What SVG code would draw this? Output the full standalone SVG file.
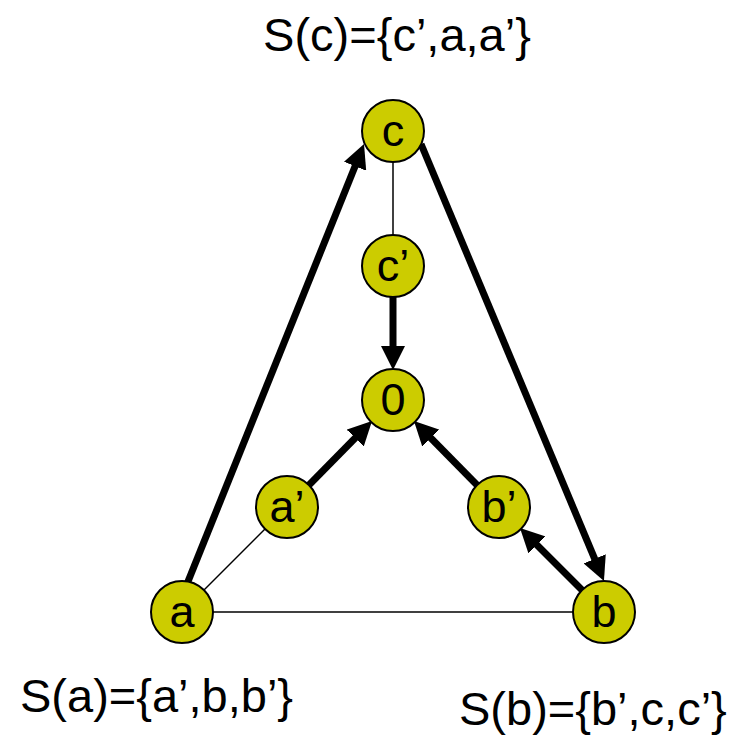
<svg xmlns="http://www.w3.org/2000/svg" width="746" height="735" viewBox="0 0 746 735">
<style>
.node circle{fill:#CCCC00;stroke:#000;stroke-width:2}
.node text{font-family:"Liberation Sans",Arial,sans-serif;font-size:45px;text-anchor:middle;fill:#000}
.thin{stroke:#000;stroke-width:1.5;fill:none}
.arr{stroke:#000;stroke-width:7;fill:none;marker-end:url(#ah)}
.lbl{font-family:"Liberation Sans",Arial,sans-serif;font-size:47px;fill:#000}
</style>
<defs>
<marker id="ah" markerUnits="userSpaceOnUse" markerWidth="24" markerHeight="24" viewBox="0 0 24 24" refX="6" refY="12" orient="auto">
<path d="M0,0 L24,12 L0,24 z" fill="#000"/>
</marker>
</defs>
<g id="connectors">
<line class="thin" x1="393" y1="131" x2="393" y2="266"/>
<line class="thin" x1="182" y1="612" x2="287" y2="507"/>
<line class="thin" x1="182" y1="612" x2="604" y2="612"/>
<line class="arr" x1="187" y1="584" x2="357.3" y2="160.7"/>
<line class="arr" x1="421" y1="144" x2="597" y2="564.4"/>
<line class="arr" x1="393" y1="296" x2="393" y2="352"/>
<line class="arr" x1="308" y1="486" x2="359.4" y2="433.8"/>
<line class="arr" x1="478" y1="486" x2="426.6" y2="433.8"/>
<line class="arr" x1="583" y1="591" x2="532.7" y2="540.7"/>
</g>
<g id="node-c" class="node"><circle cx="393" cy="131" r="31"/><text x="393" y="146">c</text></g>
<g id="node-c1" class="node"><circle cx="393" cy="266" r="31"/><text x="393" y="281">c’</text></g>
<g id="node-0" class="node"><circle cx="393" cy="400" r="31"/><text x="393" y="415">0</text></g>
<g id="node-a1" class="node"><circle cx="287" cy="507" r="31"/><text x="287" y="522">a’</text></g>
<g id="node-b1" class="node"><circle cx="499" cy="507" r="31"/><text x="499" y="522">b’</text></g>
<g id="node-a" class="node"><circle cx="182" cy="612" r="31"/><text x="182" y="627">a</text></g>
<g id="node-b" class="node"><circle cx="604" cy="612" r="31"/><text x="604" y="627">b</text></g>
<g id="labels">
<text class="lbl" x="397" y="51" text-anchor="middle">S(c)={c’,a,a’}</text>
<text class="lbl" x="20" y="712">S(a)={a’,b,b’}</text>
<text class="lbl" x="459" y="725">S(b)={b’,c,c’}</text>
</g>
</svg>
